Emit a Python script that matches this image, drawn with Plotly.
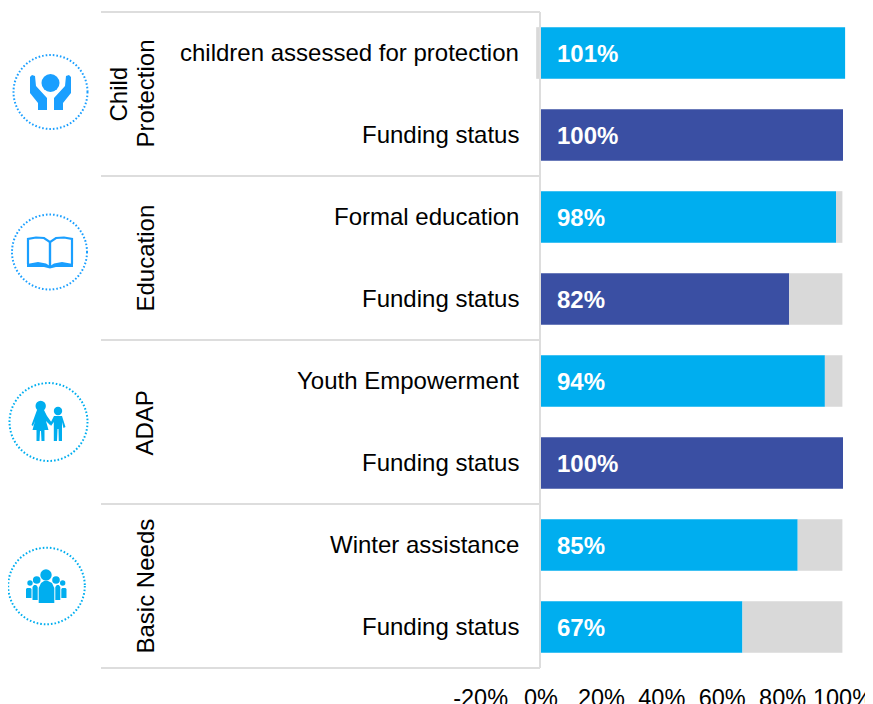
import plotly.graph_objects as go

OFF = 8                # the page body's margin: everything below is in window pixels
W, H = 873 - OFF, 704 - OFF
PX0, PXU = 541.0, 3.02  # window pixel of 0% and pixels per 1%
TOP, BOTTOM = 12, 668

row_labels = ["children assessed for protection", "Funding status", "Formal education", "Funding status",
              "Youth Empowerment", "Funding status", "Winter assistance", "Funding status"]
achieved = [100.7, 100, 97.7, 82.2, 94, 100, 85, 66.7]
remainder = [-1.6, 0, 2.1, 17.6, 5.8, 0, 14.8, 33.1]
value_labels = ["101%", "100%", "98%", "82%", "94%", "100%", "85%", "67%"]
bar_colors = ["#00AEEF", "#3A4FA3", "#00AEEF", "#3A4FA3", "#00AEEF", "#3A4FA3", "#00AEEF", "#00AEEF"]
group_lines = [["Child", "Protection"], ["Education"], ["ADAP"], ["Basic Needs"]]
tick_values = [-20, 0, 20, 40, 60, 80, 100]
tick_labels = ["-20%", "0%", "20%", "40%", "60%", "80%", "100%"]
rows = list(range(len(row_labels)))

FONT = "Liberation Sans, Arial, sans-serif"
INK = "#000000"
def px(x): return (x - OFF) / W
def py(y): return 1 - (y - TOP) / (BOTTOM - TOP)
def vx(x): return (x - PX0) / PXU

fig = go.Figure()
fig.add_bar(y=rows, x=achieved, orientation="h", marker=dict(color=bar_colors, line_width=0),
            showlegend=False, hoverinfo="skip")
fig.add_bar(y=rows, x=remainder, orientation="h", marker=dict(color="#D9D9D9", line_width=0),
            showlegend=False, hoverinfo="skip")

shapes = []
def sep(x0, y0, x1, y1):
    shapes.append(dict(type="line", xref="paper", yref="paper", x0=px(x0), x1=px(x1), y0=py(y0), y1=py(y1),
                       line=dict(color="#DDDDDD", width=2), layer="above"))
for y in (12, 176, 340, 504, 668):
    sep(101, y, 540, y)
sep(540, 12, 540, 668)

def circle(cx, cy, r, color):
    shapes.append(dict(type="circle", xref="paper", yref="paper", x0=px(cx - r), x1=px(cx + r),
                       y0=py(cy + r), y1=py(cy - r), line=dict(color=color, width=2, dash="1.6px,2px")))
def blob(cx, cy, r, color):
    shapes.append(dict(type="circle", xref="paper", yref="paper", x0=px(cx - r), x1=px(cx + r),
                       y0=py(cy + r), y1=py(cy - r), fillcolor=color, line_width=0))
def poly(points, color, fill=True, width=0):
    d = "M " + " L ".join(f"{px(x):.5f},{py(y):.5f}" for x, y in points)
    if fill:
        d += " Z"
    shapes.append(dict(type="path", xref="paper", yref="paper", path=d,
                       fillcolor=color if fill else None,
                       line=dict(color=color, width=width)))

BLUE1, BLUE2 = "#1A9FFF", "#00AEEF"
circle(50.5, 92, 37, BLUE1)
circle(49.5, 252, 37.5, BLUE1)
circle(48.5, 422, 39, BLUE2)
circle(46.5, 586, 38.3, BLUE2)

# hands
blob(50.5, 83, 9, BLUE1)
poly([(30, 77), (32, 75), (35, 76), (36, 86), (47, 98), (47, 110), (38, 110), (38, 103), (30, 93)], BLUE1)
poly([(71, 77), (69, 75), (66, 76), (65, 86), (54, 98), (54, 110), (63, 110), (63, 103), (71, 93)], BLUE1)
# book
poly([(28, 264), (28, 239), (36, 237.5), (44, 238), (50, 242), (50, 266)], BLUE1, False, 2.2)
poly([(72, 264), (72, 239), (64, 237.5), (56, 238), (50, 242), (50, 266)], BLUE1, False, 2.2)
poly([(27, 264), (38, 262), (46, 263.5), (50, 266), (54, 263.5), (62, 262), (73, 264), (73, 267), (56, 267), (50, 268.5), (44, 267), (27, 267)], BLUE1)
# children
blob(40.7, 406, 5.2, BLUE2)
poly([(37, 410), (44, 410), (47, 416), (52, 423), (50, 425), (46, 421), (48.5, 430), (44.5, 430), (44.5, 441), (41.5, 441), (41, 431),
      (40, 431), (39.5, 441), (36.5, 441), (36.5, 430), (32.5, 430), (35, 421), (33, 426), (31.5, 425)], BLUE2)
blob(58, 411, 4.2, BLUE2)
poly([(54, 416), (62, 416), (65.5, 427), (63.5, 428), (62, 422), (62, 441), (58.8, 441), (58.5, 429), (57.5, 429), (57, 441), (53.8, 441), (53.8, 422), (51, 426), (50, 424)], BLUE2)
# people
blob(46, 575, 5.7, BLUE2)
poly([(38.7, 603), (38.7, 588), (41, 583), (44, 581), (48, 581), (52, 583), (54.3, 588), (54.3, 603)], BLUE2)
for cx, x0, x1, cy, top, bot in ((36.7, 32.5, 37.7, 580, 585, 600), (56, 55.3, 60.3, 580, 585, 600)):
    blob(cx, cy, 3.8, BLUE2)
    poly([(x0, top + 2), (x0 + 1.5, top), (x1 - 1.5, top), (x1, top + 2), (x1, bot), (x0, bot)], BLUE2)
for cx, x0, x1, cy, top, bot in ((30, 26, 31.5, 583, 588, 598), (62.7, 61.3, 66.5, 583, 588, 598)):
    blob(cx, cy, 2.7, BLUE2)
    poly([(x0, top + 1), (x0 + 1, top), (x1 - 1, top), (x1, top + 1), (x1, bot), (x0, bot)], BLUE2)

annotations = []
for r, lab, val in zip(rows, row_labels, value_labels):
    annotations.append(dict(x=vx(521), y=r, xref="x", yref="y", text=lab, showarrow=False, yshift=1,
                            xanchor="right", yanchor="middle", font=dict(size=24, color=INK, family=FONT)))
    annotations.append(dict(x=vx(554.5), y=r, xref="x", yref="y", text=f"<b>{val}</b>", showarrow=False,
                            xanchor="left", yanchor="middle", font=dict(size=24, color="#FFFFFF", family=FONT)))
line_x = [(117.5, 144.5), (144.5,), (144.5,), (144.5,)]
for lines, yc, xs in zip(group_lines, (94, 258, 423, 586), line_x):
    for lab, xc in zip(lines, xs):
        annotations.append(dict(x=px(xc), y=py(yc), xref="paper", yref="paper", text=lab, textangle=-90, showarrow=False,
                                xanchor="center", yanchor="middle", font=dict(size=24, color=INK, family=FONT)))

fig.update_layout(
    width=W, height=H, barmode="relative", bargap=0.37, autosize=False,
    margin=dict(l=0, r=0, t=TOP - OFF, b=704 - BOTTOM, pad=0, autoexpand=False),
    paper_bgcolor="white", plot_bgcolor="white",
    xaxis=dict(range=[vx(OFF), vx(873)], tickmode="array", tickvals=tick_values, ticktext=tick_labels,
               showgrid=False, zeroline=False, showline=False, ticks="", ticklabelstandoff=13,
               ticklabeloverflow="allow", automargin=False,
               tickfont=dict(size=23.5, color=INK, family=FONT)),
    yaxis=dict(range=[7.5, -0.5], visible=False, automargin=False),
    shapes=shapes, annotations=annotations,
)
fig.write_html("out.html")
